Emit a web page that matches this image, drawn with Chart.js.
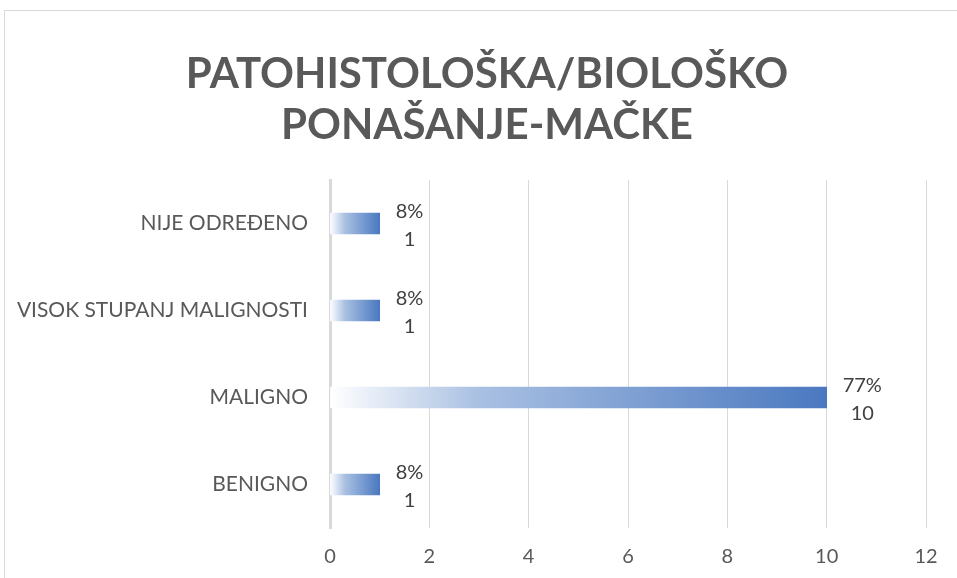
<!DOCTYPE html>
<html>
<head>
<meta charset="utf-8">
<script src="https://cdn.jsdelivr.net/npm/chart.js@4.4.1/dist/chart.umd.min.js"></script>
<style>
  html, body { margin: 0; padding: 0; background: #fff; }
  #wrap { width: 957px; height: 578px; position: relative; }
</style>
</head>
<body>
<div id="wrap"><canvas id="myChart" width="957" height="578"></canvas></div>
<script>
// data
var categories = ['NIJE ODREĐENO', 'VISOK STUPANJ MALIGNOSTI', 'MALIGNO', 'BENIGNO'];
var counts = [1, 1, 10, 1];
var xTicks = [0, 2, 4, 6, 8, 10, 12];
var titleLines = ['PATOHISTOLOŠKA/BIOLOŠKO', 'PONAŠANJE-MAČKE'];

var total = counts.reduce(function (a, b) { return a + b; }, 0);
var FONT = 'Lato, "Open Sans", sans-serif';

// gradient from white at the base to blue at the bar end
function barGradient(context) {
    var chart = context.chart;
    var x = chart.scales.x;
    if (!x || context.dataIndex === undefined) return '#4a78c0';
    var v = context.dataset.data[context.dataIndex];
    var x0 = x.getPixelForValue(0);
    var x1 = x.getPixelForValue(v);
    if (!isFinite(x0) || !isFinite(x1) || x1 - x0 < 1) return '#4a78c0';
    var g = chart.ctx.createLinearGradient(x0, 0, x1, 0);
    g.addColorStop(0, '#ffffff');
    g.addColorStop(0.3, '#a9c0e2');
    g.addColorStop(1, '#4a78c0');
    return g;
}

// outline, title (centred on the whole frame) and two line value labels
var extras = {
    id: 'extras',
    beforeDraw: function (chart) {
        var ctx = chart.ctx;
        ctx.save();
        ctx.strokeStyle = '#d9d9d9';
        ctx.lineWidth = 1;
        ctx.strokeRect(4.5, 10.5, 1000, 600);
        ctx.font = 'bold 42px ' + FONT;
        ctx.fillStyle = '#595959';
        ctx.textAlign = 'center';
        ctx.textBaseline = 'middle';
        ctx.fillText(titleLines[0], 487, 74);
        ctx.fillText(titleLines[1], 487, 125);
        ctx.restore();
    },
    afterDatasetsDraw: function (chart) {
        var ctx = chart.ctx;
        var meta = chart.getDatasetMeta(0);
        ctx.save();
        ctx.font = '20px ' + FONT;
        ctx.fillStyle = '#404040';
        ctx.textAlign = 'center';
        ctx.textBaseline = 'middle';
        meta.data.forEach(function (bar, i) {
            var pct = Math.round(counts[i] / total * 100) + '%';
            var val = String(counts[i]);
            var w = Math.max(ctx.measureText(pct).width, ctx.measureText(val).width);
            var cx = bar.x + 16 + w / 2;
            ctx.fillText(pct, cx, bar.y - 12);
            ctx.fillText(val, cx, bar.y + 16);
        });
        ctx.restore();
    }
};

document.addEventListener('DOMContentLoaded', function () {
    var ctx = document.getElementById('myChart').getContext('2d');
    var chart = new Chart(ctx, {
        type: 'bar',
        data: {
            labels: categories,
            datasets: [{
                data: counts,
                backgroundColor: barGradient,
                borderWidth: 0,
                barThickness: 21
            }]
        },
        options: {
            indexAxis: 'y',
            responsive: false,
            animation: false,
            layout: {
                padding: { left: 10, right: 31, top: 180, bottom: 10 }
            },
            scales: {
                x: {
                    min: 0,
                    max: 12,
                    afterBuildTicks: function (scale) {
                        scale.ticks = xTicks.map(function (v) { return { value: v }; });
                    },
                    afterFit: function (scale) { scale.height = 40; },
                    grid: { color: '#d9d9d9', lineWidth: 1, drawTicks: false },
                    border: { display: false },
                    ticks: {
                        padding: 17,
                        color: '#595959',
                        font: { family: FONT, size: 20 }
                    }
                },
                y: {
                    grid: { display: false, drawTicks: false },
                    border: { display: true, color: '#d9d9d9', width: 3 },
                    afterFit: function (scale) { scale.width = 320; },
                    ticks: {
                        padding: 22,
                        color: '#595959',
                        font: { family: FONT, size: 21 }
                    }
                }
            },
            plugins: {
                legend: { display: false },
                tooltip: { enabled: false },
                title: { display: false }
            }
        },
        plugins: [extras]
    });
});
</script>
</body>
</html>
